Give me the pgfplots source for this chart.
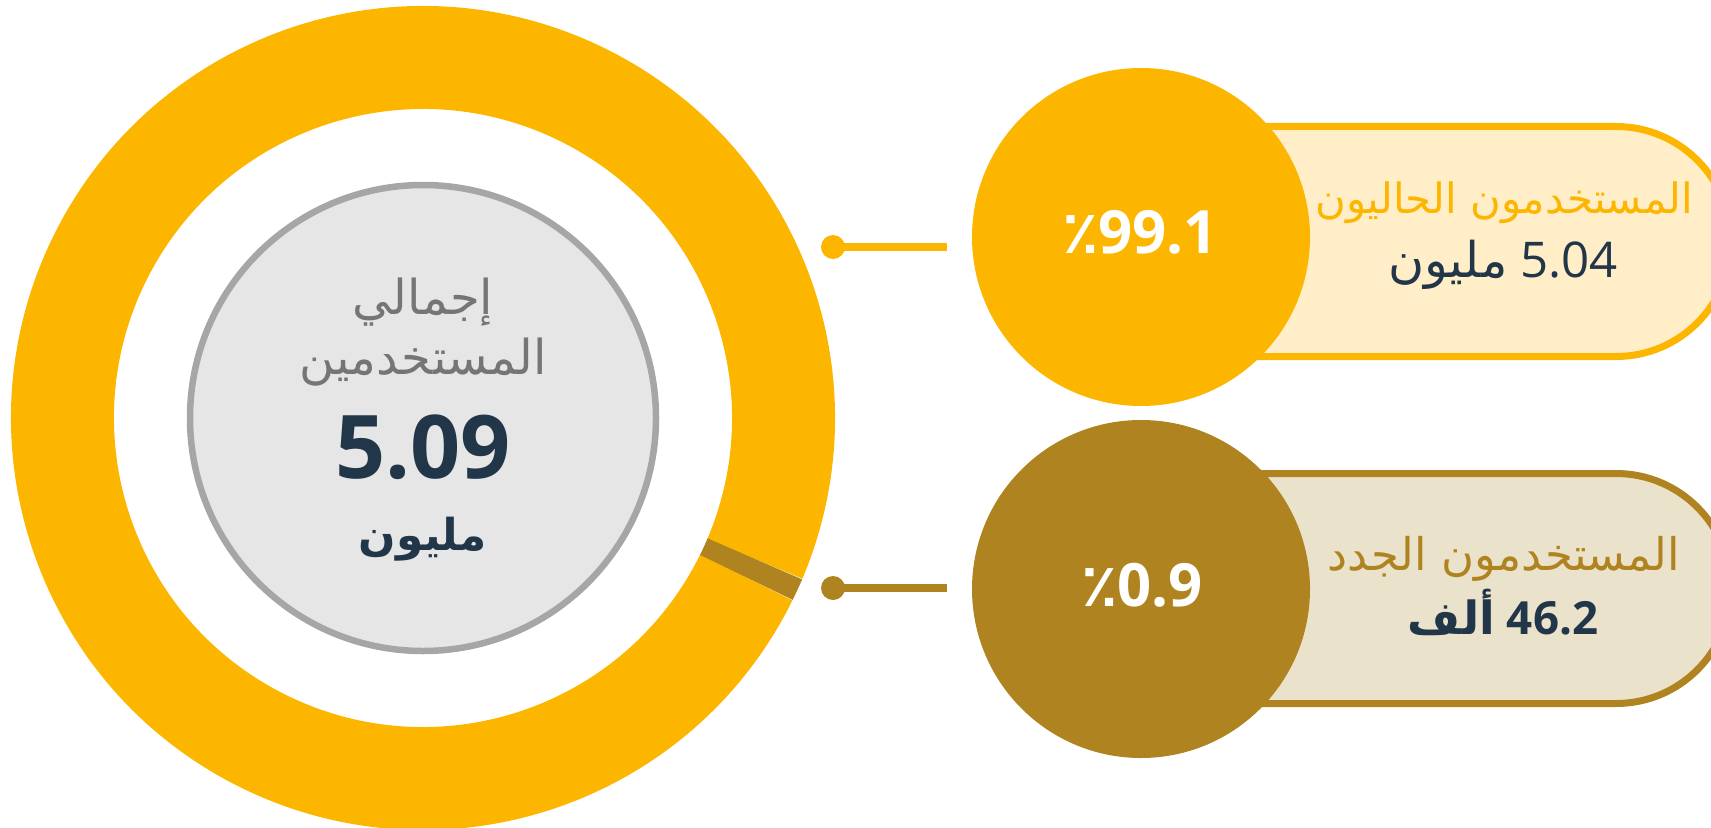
\documentclass[border=0pt]{standalone}
\usepackage{pgfplots}
\pgfplotsset{compat=1.18}
\usepackage{pgfplotstable}
\usepackage{fontspec}
\setmainfont{Open Sans}
\newfontfamily\arabicfont[Script=Arabic]{DejaVu Sans}
\TeXXeTstate=1
\definecolor{cYellow}{HTML}{FDB600}
\definecolor{cBrown}{HTML}{AF8420}
\definecolor{cCream}{HTML}{FFEEC7}
\definecolor{cBeige}{HTML}{EAE2CA}
\definecolor{cNavy}{HTML}{22364A}
\definecolor{cGrayText}{HTML}{757575}
\definecolor{cGrayFill}{HTML}{E6E6E6}
\definecolor{cGrayLine}{HTML}{A6A6A6}

\pgfplotstableread{
name share
current 99.1
new 0.9
}\usershare

\begin{document}
\begin{tikzpicture}
\pgfplotstablegetelem{0}{share}\of\usershare \let\sA\pgfplotsretval
\pgfplotstablegetelem{1}{share}\of\usershare \let\sB\pgfplotsretval
\pgfmathsetmacro{\aNewStart}{-23.0}
\pgfmathsetmacro{\aNewDelta}{-3.6*\sB}
\pgfmathsetmacro{\aCurStart}{\aNewStart+\aNewDelta}
\pgfmathsetmacro{\aCurDelta}{-3.6*\sA}
\useasboundingbox (0,0) rectangle (171.1mm,82.7mm);
\clip (0,0) rectangle (171.1mm,82.7mm);
\begin{axis}[
  x=0.1mm, y=0.1mm,
  xmin=0, xmax=1711, ymin=0, ymax=827,
  hide axis, clip=false,
  anchor=origin, at={(0,0)},
]
% donut ring
\draw[cYellow, line width=10.3mm] (axis cs:423,409) ++(\aCurStart:36.05mm)
   arc[start angle=\aCurStart, delta angle=\aCurDelta, radius=36.05mm];
\draw[cBrown, line width=10.3mm] (axis cs:423,409) ++(\aNewStart:36.05mm)
   arc[start angle=\aNewStart, delta angle=\aNewDelta, radius=36.05mm];
% centre disc
\draw[cGrayLine, fill=cGrayFill, line width=0.65mm] (axis cs:423,409) circle[radius=23.3mm];
\node[anchor=base, text=cGrayText, font=\arabicfont\fontsize{13.7}{17}\selectfont] at (axis cs:423,513) {\beginR إجمالي\endR};
\node[anchor=base, text=cGrayText, font=\arabicfont\fontsize{13.7}{17}\selectfont] at (axis cs:423,453) {\beginR المستخدمين\endR};
\node[anchor=base, text=cNavy, font=\bfseries\fontsize{25}{30}\selectfont] at (axis cs:423,349) {5.09};
\node[anchor=base, text=cNavy, font=\arabicfont\bfseries\fontsize{12.5}{15}\selectfont] at (axis cs:423,277) {\beginR مليون\endR};
% connectors
\draw[cYellow, line width=0.75mm] (axis cs:833,580) -- (axis cs:947,580);
\fill[cYellow] (axis cs:833,580) circle[radius=1.2mm];
\draw[cBrown, line width=0.75mm] (axis cs:833,239) -- (axis cs:947,239);
\fill[cBrown] (axis cs:833,239) circle[radius=1.2mm];
% pills
\draw[cYellow, fill=cCream, line width=0.7mm, rounded corners=11.5mm] (axis cs:1100,470.5) rectangle (axis cs:1731,700.5);
\draw[cBrown, fill=cBeige, line width=0.7mm, rounded corners=11.5mm] (axis cs:1100,123.5) rectangle (axis cs:1731,353.5);
% circles
\fill[cYellow] (axis cs:1141,590) circle[radius=16.9mm];
\fill[cBrown] (axis cs:1141,238) circle[radius=16.9mm];
% circle labels
\node[anchor=base, text=white, font=\bfseries\fontsize{17}{20}\selectfont] at (axis cs:1140,574) {{\arabicfont ٪}99.1};
\node[anchor=base, text=white, font=\bfseries\fontsize{17}{20}\selectfont] at (axis cs:1142,221) {{\arabicfont ٪}0.9};
% pill texts
\node[anchor=base, text=cYellow, font=\arabicfont\fontsize{11.9}{15}\selectfont] at (axis cs:1504,614) {\beginR المستخدمون الحاليون\endR};
\node[anchor=base, text=cNavy, font=\fontsize{14}{17}\selectfont] at (axis cs:1503,550) {{\arabicfont\beginR مليون\endR}\ 5.04};
\node[anchor=base, text=cBrown, font=\arabicfont\fontsize{12.8}{15}\selectfont] at (axis cs:1504,257) {\beginR المستخدمون الجدد\endR};
\node[anchor=base, text=cNavy, font=\bfseries\fontsize{13}{16}\selectfont] at (axis cs:1503,193) {{\arabicfont\beginR ألف\endR}\ 46.2};
\end{axis}
\end{tikzpicture}
\end{document}
